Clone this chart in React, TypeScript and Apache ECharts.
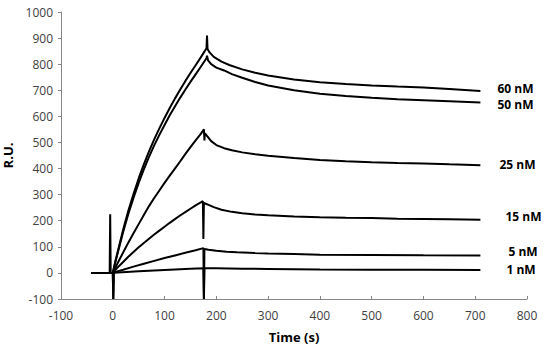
import React, { useEffect, useRef } from "react";
import * as echarts from "echarts";

const xTicks = { min: -100, max: 800, interval: 100 };
const yTicks = { min: -100, max: 1000, interval: 100 };

const seriesNames = ["60 nM", "50 nM", "25 nM", "15 nM", "5 nM", "1 nM"];

const s60: number[][] = [
  [-42, 0], [-6, 0], [-5, 225], [-4, 0], [0, 0], [5, 45], [10, 85], [20, 165], [30, 238], [40, 302],
  [50, 362], [60, 416], [70, 466], [80, 512], [90, 554], [100, 594], [110, 632], [120, 668],
  [130, 702], [140, 735], [150, 766], [160, 796], [170, 826], [181, 861], [182, 910], [183, 858],
  [187, 845], [195, 828], [210, 810], [225, 797], [250, 780], [275, 767], [300, 757], [350, 741],
  [400, 731], [450, 724], [500, 718], [550, 714], [600, 711], [650, 705], [710, 697],
];
const s50: number[][] = [
  [-42, 0], [0, 0], [5, 42], [10, 80], [20, 157], [30, 226], [40, 287], [50, 345], [60, 397],
  [70, 445], [80, 489], [90, 529], [100, 567], [110, 604], [120, 638], [130, 671], [140, 702],
  [150, 732], [160, 761], [170, 790], [181, 823], [182, 832], [184, 815], [190, 800], [200, 787],
  [215, 776], [230, 762], [250, 748], [275, 732], [300, 718], [350, 700], [400, 687], [450, 678],
  [500, 671], [550, 666], [600, 662], [650, 658], [710, 653],
];
const s25: number[][] = [
  [-42, 0], [0, 0], [10, 40], [20, 78], [30, 116], [40, 152], [50, 187], [60, 222], [70, 256],
  [80, 287], [90, 316], [100, 345], [110, 373], [120, 400], [130, 427], [140, 455], [150, 482],
  [160, 508], [170, 533], [176, 550], [177, 508], [178, 535], [180, 530], [190, 505], [200, 490],
  [215, 478], [230, 470], [250, 462], [275, 455], [300, 449], [350, 440], [400, 433], [450, 428],
  [500, 424], [550, 421], [600, 419], [650, 416], [710, 413],
];
const s15: number[][] = [
  [-42, 0], [0, 0], [10, 22], [20, 42], [30, 62], [40, 80], [50, 98], [60, 115], [70, 131],
  [80, 147], [90, 162], [100, 177], [110, 192], [120, 206], [130, 220], [140, 233], [150, 246],
  [160, 259], [170, 270], [174, 275], [175, 130], [176, 268], [185, 261], [195, 252], [210, 242],
  [230, 234], [250, 229], [275, 224], [300, 221], [350, 216], [400, 213], [450, 211], [500, 210],
  [550, 208], [600, 207], [650, 206], [710, 204],
];
const s5: number[][] = [
  [-42, 0], [0, 0], [1, -100], [2, 2], [20, 12], [40, 24], [60, 35], [80, 46], [100, 57],
  [120, 67], [140, 77], [160, 87], [175, 95], [176, -100], [177, 92], [185, 89], [200, 85],
  [220, 81], [240, 79], [275, 76], [300, 74], [350, 72], [400, 70], [500, 69], [600, 68], [710, 67],
];
const s1: number[][] = [
  [-42, 0], [0, 0], [1, -100], [2, 1], [50, 6], [100, 11], [150, 16], [175, 18], [176, -100],
  [177, 18], [200, 18], [250, 16], [300, 15], [400, 13], [500, 12], [600, 12], [710, 11],
];

const seriesData = [s60, s50, s25, s15, s5, s1];
const labelOffsets = [[17, -3], [17, 2], [19, -1], [25, -3], [28, -4], [26, -1]];

const FONT = "'Open Sans', sans-serif";

export default function App() {
  const ref = useRef<HTMLDivElement>(null);
  useEffect(() => {
    if (!ref.current) return;
    const chart = echarts.init(ref.current, null, { renderer: "svg" });
    chart.setOption({
      animation: false,
      backgroundColor: "#ffffff",
      grid: { left: 61, right: 23, top: 12, bottom: 49, containLabel: false, outerBoundsMode: "none" },
      xAxis: {
        type: "value",
        min: xTicks.min,
        max: xTicks.max,
        interval: xTicks.interval,
        name: "Time (s)",
        nameLocation: "middle",
        nameGap: 31,
        nameTextStyle: { fontFamily: FONT, fontWeight: "bold", fontSize: 13, color: "#000" },
        axisLine: { onZero: false, lineStyle: { color: "#868686", width: 1 } },
        axisTick: { show: true, inside: true, length: 3, lineStyle: { color: "#868686" } },
        axisLabel: { fontFamily: FONT, fontSize: 12, color: "#404040", margin: 10, formatter: (v: number) => String(v) },
        splitLine: { show: false },
      },
      yAxis: {
        type: "value",
        min: yTicks.min,
        max: yTicks.max,
        interval: yTicks.interval,
        name: "R.U.",
        nameLocation: "middle",
        nameGap: 41,
        nameRotate: 90,
        nameTextStyle: { fontFamily: FONT, fontWeight: "bold", fontSize: 13, color: "#000" },
        axisLine: { show: true, onZero: false, lineStyle: { color: "#868686", width: 1 } },
        axisTick: { show: true, inside: false, length: 3, lineStyle: { color: "#868686" } },
        axisLabel: { fontFamily: FONT, fontSize: 12, color: "#404040", margin: 8, formatter: (v: number) => String(v) },
        splitLine: { show: false },
      },
      series: seriesData.map((d, i) => ({
        type: "line",
        name: seriesNames[i],
        data: d,
        showSymbol: false,
        symbol: "none",
        clip: true,
        lineStyle: { color: "#000", width: 2 },
        endLabel: {
          show: true,
          formatter: seriesNames[i],
          distance: 0,
          offset: labelOffsets[i],
          align: "left",
          fontFamily: FONT,
          fontWeight: "bold",
          fontSize: 12,
          lineHeight: 12,
          color: "#000",
        },
      })),
    });
    return () => chart.dispose();
  }, []);
  return <div ref={ref} style={{ width: 550, height: 348, position: "absolute", left: 0, top: 0 }} />;
}
